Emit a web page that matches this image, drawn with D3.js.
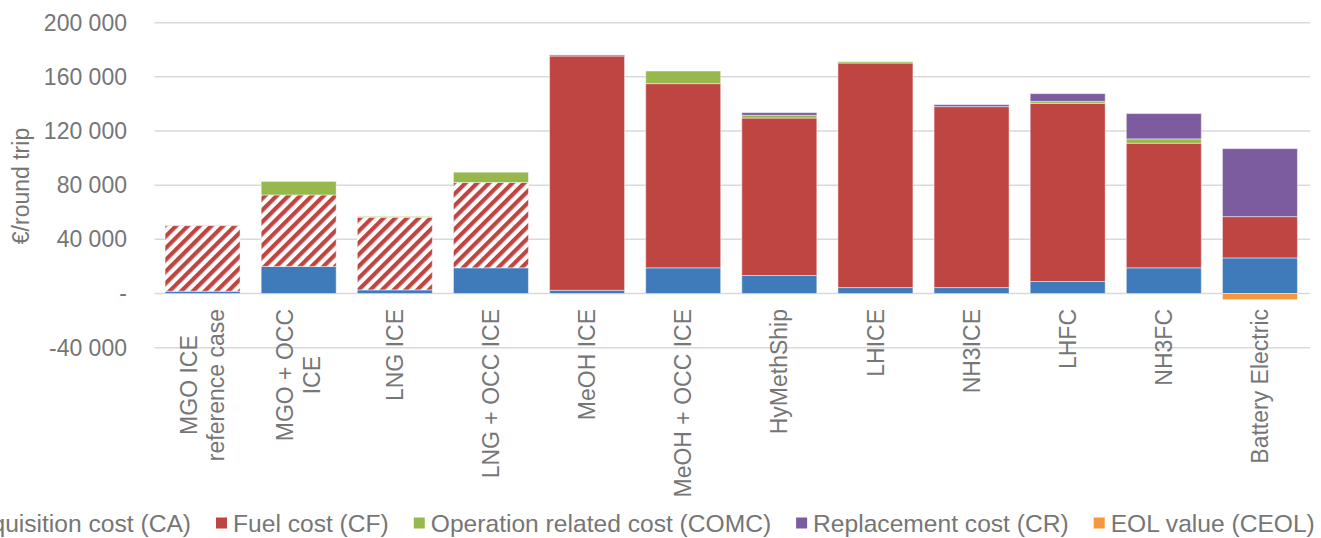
<!DOCTYPE html>
<html>
<head>
<meta charset="utf-8">
<script src="https://cdn.jsdelivr.net/npm/d3@7"></script>
<style>
  body { margin: 0; background: #fff; }
  svg text { font-family: "Liberation Sans", Arial, sans-serif; fill: #767676; }
</style>
</head>
<body>
<div id="chart"></div>
<script>
// categories (line breaks as in the original axis labels)
const categories = [
  "MGO ICE\nreference case", "MGO + OCC\nICE", "LNG ICE", "LNG + OCC ICE",
  "MeOH ICE", "MeOH + OCC ICE", "HyMethShip", "LHICE", "NH3ICE", "LHFC",
  "NH3FC", "Battery Electric"
];

// €/round trip
const acquisition = [1700, 20000, 2700, 19000, 2400, 19000, 13300, 4400, 4400, 8900, 19000, 26300];
const fuel        = [48500, 52800, 53600, 63000, 173000, 136000, 116300, 165800, 133600, 131500, 92000, 30500];
const operation   = [300, 10000, 600, 7600, 0, 9300, 2000, 1000, 0, 1500, 3200, 0];
const replacement = [0, 0, 0, 0, 800, 0, 2000, 0, 1500, 5700, 18700, 50200];
const eol         = [0, 0, 0, 0, 0, 0, 0, 0, 0, 0, 0, -4500];

// fuel cost drawn hatched for the fossil / reference cases
const hatchedFuel = [true, true, true, true, false, false, false, false, false, false, false, false];

const seriesKeys = ["CA", "CF", "COMC", "CR", "CEOL"];
const seriesNames = ["Acquisition cost (CA)", "Fuel cost (CF)", "Operation related cost (COMC)",
                     "Replacement cost (CR)", "EOL value (CEOL)"];
const seriesColors = ["#3f7bbb", "#bf4542", "#97b84c", "#7c5b9f", "#f7963a"];
const yTicks = [-40000, 0, 40000, 80000, 120000, 160000, 200000];

const W = 1321, H = 538;
const margin = {top: 23, right: 13, bottom: 190, left: 154.5};

const rows = categories.map((c, i) => ({
  cat: c, i: i,
  CA: acquisition[i], CF: fuel[i], COMC: operation[i], CR: replacement[i], CEOL: eol[i]
}));

const svg = d3.select("#chart").append("svg")
  .attr("width", W).attr("height", H);

// hatch pattern
const defs = svg.append("defs");
const pat = defs.append("pattern")
  .attr("id", "hatch")
  .attr("patternUnits", "userSpaceOnUse")
  .attr("width", 8.3).attr("height", 8.3)
  .attr("patternTransform", "rotate(45)");
pat.append("rect").attr("width", 8.3).attr("height", 8.3).attr("fill", "#fff");
pat.append("rect").attr("width", 4.2).attr("height", 8.3).attr("fill", seriesColors[1]);

const x = d3.scaleBand()
  .domain(d3.range(categories.length))
  .range([margin.left, 1308])
  .paddingInner(0.22).paddingOuter(0.11);

const y = d3.scaleLinear()
  .domain([-40000, 200000])
  .range([347.7, 22.7]);

const fmt = v => v === 0 ? "-" : (v < 0 ? "-" : "") + d3.format(",")(Math.abs(v)).replace(/,/g, " ");

// gridlines
svg.append("g")
  .selectAll("line")
  .data(yTicks)
  .join("line")
  .attr("x1", margin.left).attr("x2", 1310)
  .attr("y1", d => y(d)).attr("y2", d => y(d))
  .attr("stroke", "#d9d9d9").attr("stroke-width", 1.5);

// y axis labels
const yAxis = svg.append("g")
  .attr("transform", "translate(127,0)")
  .call(d3.axisLeft(y).tickValues(yTicks).tickFormat(fmt).tickSize(0).tickPadding(0));
yAxis.select(".domain").remove();
yAxis.selectAll("text")
  .attr("font-size", "23px")
  .style("font-family", "'Liberation Sans', Arial, sans-serif")
  .attr("fill", "#767676");

svg.append("text")
  .attr("transform", "translate(21,186) rotate(-90)")
  .attr("text-anchor", "middle")
  .attr("dy", "0.35em")
  .attr("font-size", "23px")
  .text("€/round trip");

// stacked bars
const stack = d3.stack().keys(seriesKeys).offset(d3.stackOffsetDiverging);
const layers = stack(rows);

svg.append("g")
  .selectAll("g")
  .data(layers)
  .join("g")
  .each(function(layer, li) {
    d3.select(this).selectAll("rect")
      .data(layer.filter(d => d[1] - d[0] !== 0))
      .join("rect")
      .attr("x", d => x(d.data.i))
      .attr("width", x.bandwidth())
      .attr("y", d => y(Math.max(d[0], d[1])))
      .attr("height", d => Math.abs(y(d[0]) - y(d[1])))
      .attr("fill", d => (layer.key === "CF" && hatchedFuel[d.data.i]) ? "url(#hatch)" : seriesColors[li])
      .attr("stroke", "#fff")
      .attr("stroke-opacity", 0.45)
      .attr("stroke-width", 1);
  });

// category labels, rotated, each line centred, block top at y=309
const labelTop = 309;
const lineGap = 27;
const labels = svg.append("g");
rows.forEach(r => {
  const lines = r.cat.split("\n");
  const cx = x(r.i) + x.bandwidth() / 2;
  const t = labels.append("text")
    .attr("font-size", "23px")
    .attr("text-anchor", "middle");
  lines.forEach((ln, k) => {
    t.append("tspan")
      .attr("x", 0)
      .attr("y", (k - (lines.length - 1) / 2) * lineGap)
      .attr("dy", "0.35em")
      .text(ln);
  });
  let maxLen = 0;
  t.selectAll("tspan").each(function() { maxLen = Math.max(maxLen, this.getComputedTextLength()); });
  t.attr("transform", "translate(" + cx + "," + (labelTop + maxLen / 2) + ") rotate(-90)");
});

// legend, overflowing on the left as in the source
const legend = svg.append("g").attr("transform", "translate(0,523)");
const items = legend.selectAll("g")
  .data(seriesNames)
  .join("g");
items.append("rect")
  .attr("width", 11).attr("height", 11)
  .attr("y", -5.5)
  .attr("fill", (d, i) => seriesColors[i]);
items.append("text")
  .attr("x", 17)
  .attr("dy", "0.35em")
  .attr("font-size", "24.6px")
  .text(d => d);
let widths = [];
items.select("text").each(function() { widths.push(this.getComputedTextLength()); });
// second marker sits at x=216
const itemGap = 25;
let pos = 216 - (17 + widths[0] + itemGap);
items.each(function(d, i) {
  d3.select(this).attr("transform", "translate(" + pos + ",0)");
  pos += 17 + widths[i] + itemGap;
});
</script>
</body>
</html>
